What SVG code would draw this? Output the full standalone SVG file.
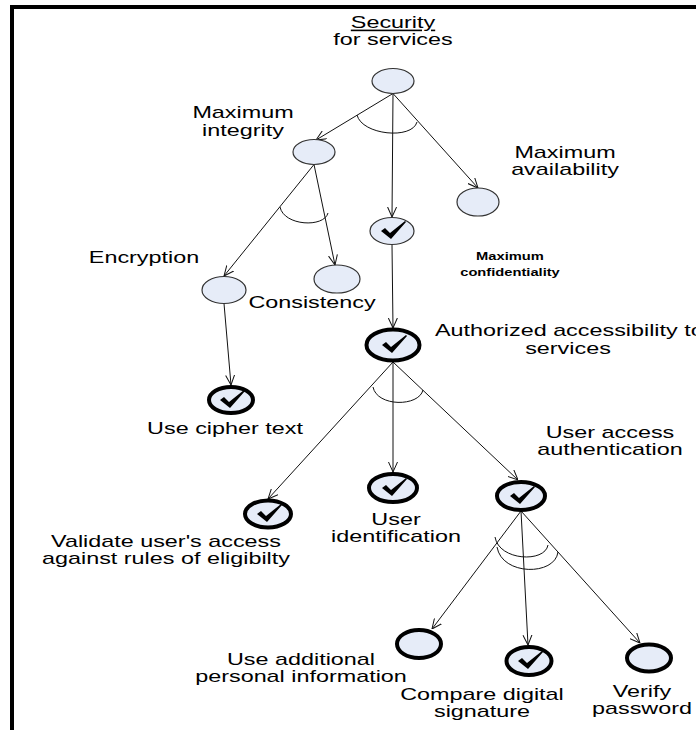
<svg xmlns="http://www.w3.org/2000/svg" xmlns:xlink="http://www.w3.org/1999/xlink" width="696" height="730" viewBox="0 0 696 730">
  <style>
    .lbl { font-family: "Liberation Sans", Arial, sans-serif; font-size: 16px; fill: #000; }
    .sm { font-family: "Liberation Sans", Arial, sans-serif; font-size: 10.5px; font-weight: bold; fill: #000; }
    .node { fill: #E6ECF8; stroke: #333; stroke-width: 1.2; }
    .goal { fill: #E6ECF8; stroke: #000; stroke-width: 4; }
    .edge { fill: none; stroke: #111; stroke-width: 1; marker-end: url(#head); }
    .arc { fill: none; stroke: #111; stroke-width: 1; }
    .frame { stroke: #000; stroke-width: 4; fill: none; }
  </style>
  <defs>
    <marker id="head" viewBox="0 0 10 10" refX="10" refY="5" markerWidth="10" markerHeight="10" markerUnits="userSpaceOnUse" orient="auto">
      <path d="M0,0.5 L10,5 L0,9.5" fill="none" stroke="#111" stroke-width="1"/>
    </marker>
    <path id="tick" d="M-12,0 L-8,-3 L-3,2 L12,-10 L13,-9 L-2,8 Z" fill="#000"/>
  </defs>

  <rect width="696" height="730" fill="#fff"/>
  <!-- frame (left and top edges) -->
  <path class="frame" d="M12,730 L12,7 L696,7"/>

  <!-- connectors -->
  <g id="connectors">
    <line class="edge" x1="393" y1="93.5" x2="316" y2="140"/>
    <line class="edge" x1="393" y1="93.5" x2="392" y2="217"/>
    <line class="edge" x1="393" y1="93.5" x2="478" y2="188"/>
    <path class="arc" d="M357,115 C362,135 412,140 417,122"/>

    <line class="edge" x1="314" y1="164.5" x2="224" y2="276"/>
    <line class="edge" x1="314" y1="164.5" x2="335" y2="265"/>
    <path class="arc" d="M280,207 C284,226 324,228 328,213"/>

    <line class="edge" x1="392" y1="244.5" x2="393" y2="328"/>
    <line class="edge" x1="224" y1="303.5" x2="231" y2="385"/>

    <line class="edge" x1="393" y1="362" x2="268" y2="499"/>
    <line class="edge" x1="393" y1="362" x2="393" y2="472"/>
    <line class="edge" x1="393" y1="362" x2="518" y2="480"/>
    <path class="arc" d="M373,387 C377,407 419,407 423,390"/>

    <line class="edge" x1="521" y1="511" x2="432" y2="629"/>
    <line class="edge" x1="521" y1="511" x2="528" y2="645"/>
    <line class="edge" x1="521" y1="511" x2="640" y2="643"/>
    <path class="arc" d="M495,537 C499,561 545,563 548,545"/>
    <path class="arc" d="M497,547 C502,576 555,576 558,552"/>
  </g>

  <g id="security">
    <ellipse class="node" cx="393" cy="81" rx="21" ry="12.5"/>
    <text class="lbl" transform="translate(393,28) scale(1.46,1)" text-anchor="middle" text-decoration="underline">Security</text>
    <text class="lbl" transform="translate(393,45) scale(1.46,1)" text-anchor="middle">for services</text>
  </g>

  <g id="max-integrity">
    <ellipse class="node" cx="314" cy="152" rx="21" ry="12.5"/>
    <text class="lbl" transform="translate(243,118) scale(1.46,1)" text-anchor="middle">Maximum<tspan x="0" dy="18">integrity</tspan></text>
  </g>

  <g id="max-availability">
    <ellipse class="node" cx="478" cy="202" rx="21" ry="14"/>
    <text class="lbl" transform="translate(565,158) scale(1.46,1)" text-anchor="middle">Maximum<tspan x="0" dy="17">availability</tspan></text>
  </g>

  <g id="max-confidentiality">
    <ellipse class="node" cx="392" cy="231" rx="22" ry="13.5"/>
    <use xlink:href="#tick" x="393" y="231"/>
    <text class="sm" transform="translate(510,260) scale(1.4,1)" text-anchor="middle">Maximum<tspan x="0" dy="16">confidentiality</tspan></text>
  </g>

  <g id="encryption">
    <ellipse class="node" cx="224" cy="290" rx="22" ry="13.5"/>
    <text class="lbl" transform="translate(144,263) scale(1.46,1)" text-anchor="middle">Encryption</text>
  </g>

  <g id="consistency">
    <ellipse class="node" cx="337" cy="279" rx="23" ry="14"/>
    <text class="lbl" transform="translate(312,308) scale(1.46,1)" text-anchor="middle">Consistency</text>
  </g>

  <g id="authorized-access">
    <ellipse class="goal" cx="393" cy="345" rx="26.5" ry="15.5"/>
    <use xlink:href="#tick" x="394" y="345"/>
    <text class="lbl" transform="translate(435,336) scale(1.46,1)">Authorized accessibility to</text>
    <text class="lbl" transform="translate(568,354) scale(1.46,1)" text-anchor="middle">services</text>
  </g>

  <g id="use-cipher-text">
    <ellipse class="goal" cx="231" cy="400" rx="22" ry="13"/>
    <use xlink:href="#tick" x="232" y="400"/>
    <text class="lbl" transform="translate(225,434) scale(1.46,1)" text-anchor="middle">Use cipher text</text>
  </g>

  <g id="validate-access">
    <ellipse class="goal" cx="268" cy="514" rx="23" ry="13.5"/>
    <use xlink:href="#tick" x="269" y="514"/>
    <text class="lbl" transform="translate(166,547) scale(1.46,1)" text-anchor="middle">Validate user's access<tspan x="0" dy="17">against rules of eligibilty</tspan></text>
  </g>

  <g id="user-identification">
    <ellipse class="goal" cx="393" cy="488" rx="24" ry="14"/>
    <use xlink:href="#tick" x="394" y="488"/>
    <text class="lbl" transform="translate(396,525) scale(1.46,1)" text-anchor="middle">User<tspan x="0" dy="17">identification</tspan></text>
  </g>

  <g id="user-authentication">
    <ellipse class="goal" cx="521" cy="496" rx="24" ry="14"/>
    <use xlink:href="#tick" x="522" y="496"/>
    <text class="lbl" transform="translate(610,438) scale(1.46,1)" text-anchor="middle">User access<tspan x="0" dy="17">authentication</tspan></text>
  </g>

  <g id="additional-info">
    <ellipse class="goal" cx="419" cy="644" rx="22" ry="14"/>
    <text class="lbl" transform="translate(301,665) scale(1.46,1)" text-anchor="middle">Use additional<tspan x="0" dy="17">personal information</tspan></text>
  </g>

  <g id="digital-signature">
    <ellipse class="goal" cx="529" cy="661" rx="22.5" ry="14"/>
    <use xlink:href="#tick" x="530" y="661"/>
    <text class="lbl" transform="translate(482,700) scale(1.46,1)" text-anchor="middle">Compare digital<tspan x="0" dy="17">signature</tspan></text>
  </g>

  <g id="verify-password">
    <ellipse class="goal" cx="649" cy="658" rx="22" ry="13.5"/>
    <text class="lbl" transform="translate(642,697) scale(1.46,1)" text-anchor="middle">Verify<tspan x="0" dy="17">password</tspan></text>
  </g>
</svg>
